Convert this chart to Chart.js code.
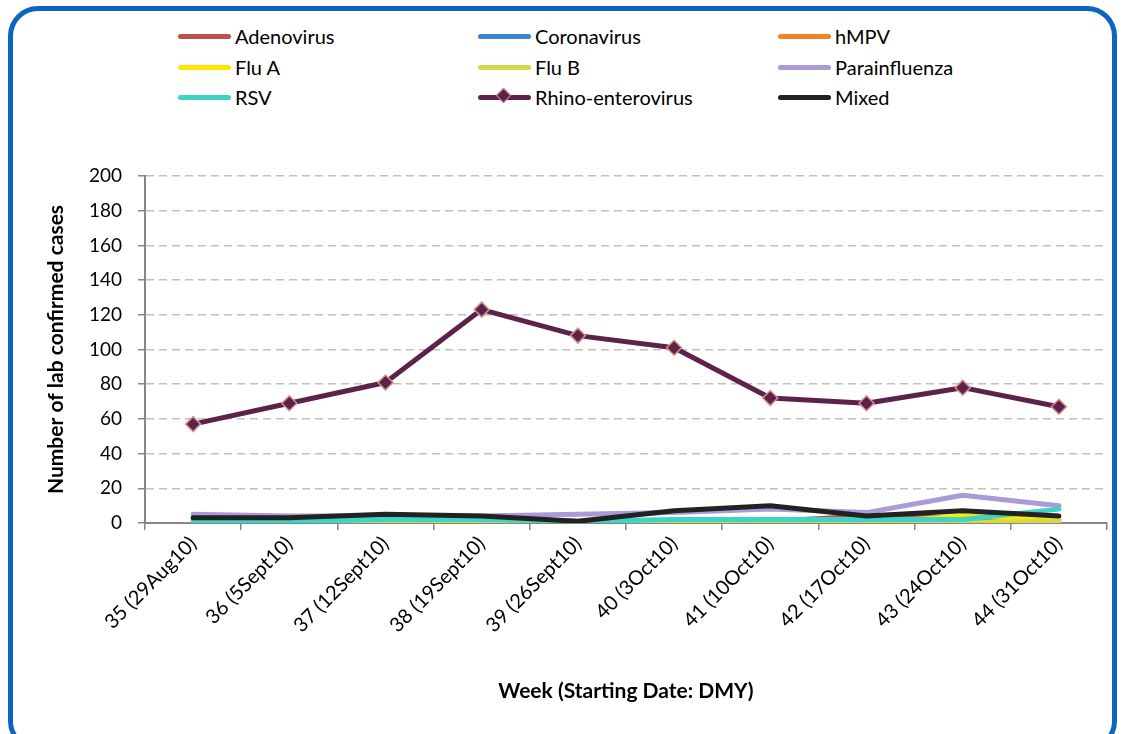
<!DOCTYPE html>
<html>
<head>
<meta charset="utf-8">
<script src="https://cdn.jsdelivr.net/npm/chart.js@4.4.1/dist/chart.umd.min.js"></script>
<style>
  html, body { margin: 0; padding: 0; background: #ffffff; }
  #wrap { position: relative; width: 1122px; height: 734px; overflow: hidden; font-family: Lato, "Open Sans", sans-serif; }
  #frame { position: absolute; left: 8px; top: 6px; width: 1109px; height: 745px; box-sizing: border-box;
           border: 5px solid #0A65C2; border-radius: 30px; }
  #chart { position: absolute; left: 0; top: 0; }
  #legend { position: absolute; left: 0; top: 0; width: 1122px; height: 130px; }
  .li { position: absolute; height: 24px; display: flex; align-items: center; font-size: 20px; color: #000; white-space: nowrap; }
  .li .sw { position: relative; width: 53px; height: 5px; border-radius: 3px; margin-right: 4px; }
  .li .dm { position: absolute; left: 20px; top: -5px; width: 11px; height: 11px; transform: rotate(45deg); box-sizing: border-box; border: 1.5px solid #D4928A; }
</style>
</head>
<body>
<div id="wrap">
  <div id="frame"></div>
  <div id="legend"></div>
  <canvas id="chart" width="1122" height="734"></canvas>
</div>
<script>
// ---- data ----
const weeks = ["35 (29Aug10)", "36 (5Sept10)", "37 (12Sept10)", "38 (19Sept10)", "39 (26Sept10)",
               "40 (3Oct10)", "41 (10Oct10)", "42 (17Oct10)", "43 (24Oct10)", "44 (31Oct10)"];
const adenovirus     = [0, 0, 0, 0, 0, 0, 1, 4, 3, 2];
const coronavirus    = [0, 0, 0, 0, 0, 0, 0, 0, 0, 0];
const hmpv           = [0, 0, 0, 0, 0, 0, 0, 0, 0, 0];
const fluA           = [0, 0, 0, 0, 0, 0, 0, 0, 4, 2];
const fluB           = [0, 0, 0, 0, 0, 0, 0, 0, 0, 1];
const parainfluenza  = [5, 4, 4, 4, 5, 6, 8, 6, 16, 10];
const rsv            = [1, 1, 2, 2, 1, 2, 2, 2, 2, 8];
const rhinoEntero    = [57, 69, 81, 123, 108, 101, 72, 69, 78, 67];
const mixed          = [3, 3, 5, 4, 1, 7, 10, 4, 7, 4];
const yTicks         = [0, 20, 40, 60, 80, 100, 120, 140, 160, 180, 200];

const seriesNames  = ["Adenovirus", "Coronavirus", "hMPV", "Flu A", "Flu B", "Parainfluenza", "RSV", "Rhino-enterovirus", "Mixed"];
const seriesData   = [adenovirus, coronavirus, hmpv, fluA, fluB, parainfluenza, rsv, rhinoEntero, mixed];
const seriesColors = ["#C0504D", "#3A85D0", "#F58025", "#FFE800", "#D4D84A", "#AC99D8", "#3CD5C5", "#5C2249", "#222222"];

const datasets = seriesNames.map((name, i) => {
  const isRhino = name === "Rhino-enterovirus";
  return {
    label: name,
    data: seriesData[i],
    borderColor: seriesColors[i],
    backgroundColor: seriesColors[i],
    borderWidth: 5,
    tension: 0,
    fill: false,
    borderJoinStyle: "round",
    borderCapStyle: "round",
    pointRadius: isRhino ? 7.5 : 0,
    pointHoverRadius: isRhino ? 7.5 : 0,
    pointStyle: "rectRot",
    pointBackgroundColor: seriesColors[i],
    pointBorderColor: "#D4928A",
    pointBorderWidth: 1.5,
    order: -i
  };
});

// ---- legend (HTML, 3 columns) ----
const legendEl = document.getElementById("legend");
const colX = [178, 478, 778];
const rowY = [24, 55, 85];
seriesNames.forEach((name, i) => {
  const item = document.createElement("div");
  item.className = "li";
  item.style.left = colX[i % 3] + "px";
  item.style.top = rowY[Math.floor(i / 3)] + "px";
  const sw = document.createElement("div");
  sw.className = "sw";
  sw.style.background = seriesColors[i];
  if (name === "Rhino-enterovirus") {
    const dm = document.createElement("div");
    dm.className = "dm";
    dm.style.background = seriesColors[i];
    sw.appendChild(dm);
  }
  const tx = document.createElement("span");
  tx.textContent = name;
  item.appendChild(sw);
  item.appendChild(tx);
  legendEl.appendChild(item);
});

function build() {
  const ctx = document.getElementById("chart").getContext("2d");
  new Chart(ctx, {
    type: "line",
    data: { labels: weeks, datasets: datasets },
    options: {
      responsive: false,
      animation: false,
      events: [],
      layout: { padding: { top: 176, right: 15, left: 0, bottom: 0 } },
      plugins: { legend: { display: false }, tooltip: { enabled: false } },
      scales: {
        x: {
          offset: true,
          grid: { offset: true, drawOnChartArea: false, drawTicks: true, tickLength: 7,
                  color: "#868686", tickColor: "#868686", lineWidth: 1.5 },
          border: { color: "#868686", width: 2 },
          ticks: { font: { family: "Lato", size: 20 }, color: "#000", minRotation: 45, maxRotation: 45,
                   padding: 2, autoSkip: false },
          title: { display: true, text: "Week (Starting Date: DMY)", color: "#000",
                   font: { family: "Lato", size: 21, weight: "bold" }, padding: { top: 0, bottom: 30 } },
          afterFit(s) { s.height = 211; }
        },
        y: {
          min: 0, max: 200,
          afterBuildTicks(s) { s.ticks = yTicks.map(v => ({ value: v })); },
          ticks: { font: { family: "Lato", size: 19 }, color: "#000", padding: 16 },
          grid: {
            color: (c) => (c.tick && c.tick.value === 0) ? "rgba(0,0,0,0)" : "#C0C0C0",
            lineWidth: 1.5, tickLength: 7, tickColor: "#868686", tickBorderDash: [], tickWidth: 1.5
          },
          border: { color: "#868686", width: 2, dash: [8, 5] },
          title: { display: true, text: "Number of lab confirmed cases", color: "#000",
                   font: { family: "Lato", size: 21, weight: "bold" }, padding: { top: 44, bottom: 0 } },
          afterFit(s) { s.width = 145; }
        }
      }
    }
  });
}

Promise.all([
  document.fonts.load("19px Lato"),
  document.fonts.load("bold 21px Lato")
]).then(build, build);
</script>
</body>
</html>
